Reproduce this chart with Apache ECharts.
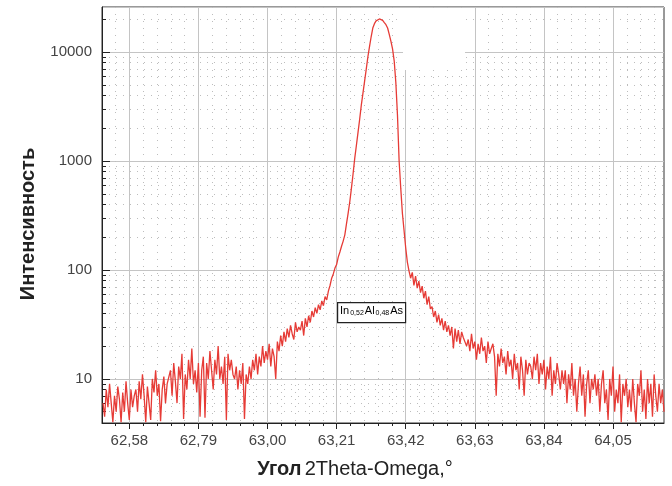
<!DOCTYPE html>
<html><head><meta charset="utf-8">
<script src="https://cdn.jsdelivr.net/npm/echarts@6/dist/echarts.min.js"></script>
<style>html,body{margin:0;padding:0;background:#fff}#c{width:672px;height:486px}</style>
</head><body><div id="c"></div>
<script>
// Scan sampling (2Theta-Omega, degrees)
const scanStart = 62.500;
const scanStep = 0.005;

// Intensity, left tail 62.500 .. 63.195
const tailLeft = [
  6,4.5,8,5.5,9,6,4,7,5,8.5,6.5,4,7.5,5,9.5,6,4.2,8,5.5,7,
  8,5,9.5,6.5,11,7,4,8.5,6,4.2,10,7.5,12,7,9,4.1,8,10.5,6,9,
  9,12,7,14,9.5,6,13,10,17,4.3,11,8,15,10,19,9,12,7.5,14,4.5,
  12,16,4.4,14,10,18,12,8,15,11,20,10,13,9,16,4.2,17,12,15,11,
  10,13,8,12,9,14,4.3,11,9,13,10,15,12,17,11,16,13,20,14,18,
  15,21,13,19,16,10,22,18,25,20,27,22,29,24,31,26,23,33,27,30,
  28,34,25,36,30,38,33,42,37,45,40,48,43,52,47,57,53,64,72,84
];
// Peak 63.200 .. 63.430
const peak = [
  92,104,112,131,146,165,184,210,265,330,420,560,760,1050,1380,1820,2400,3240,4170,5370,
  6920,9000,11200,13800,16600,18200,19300,19900,20100,20000,19500,18600,17800,16600,14500,12600,
  10700,8300,5250,2630,1000,560,330,230,160,118,98
];
// Right tail 63.435 .. 64.205
const tailRight = [
  84,95,72,88,68,79,62,71,55,64,48,57,44,
  46,37,42,33,39,31,36,28,34,27,31,25,30,19,29,22,28,21,27,24,
  25,20,23,18,26,19,22,15,21,17,24,18,20,14,22,17,19,21,16,7,
  17,13,19,14,16,11,18,13,15,10,17,12,14,8,16,12,7,15,11,14,
  13,10,16,12,17,9,14,11,15,8,13,10,16,7,12,9,14,11,8,12,
  9,12,6,11,8,14,7,10,5,9,13,7,11,4.5,9,12,6,10,8,11,
  7,10,5,9,12,6,8,4.2,10,7,13,5,8,6,11,4,9,7,10,5.5,
  8,5,10,6,4,9,7,12,5,8,4.3,10,6,9,4.5,11,7,5,9,6,8,5
];
const intensity = tailLeft.concat(peak, tailRight);

const xMajorTicks = [62.58, 62.79, 63.00, 63.21, 63.42, 63.63, 63.84, 64.05];
const xMinorTicks = [62.538, 62.622, 62.664, 62.706, 62.748, 62.832, 62.874, 62.916, 62.958,
  63.042, 63.084, 63.126, 63.168, 63.252, 63.294, 63.336, 63.378, 63.462, 63.504, 63.546, 63.588,
  63.672, 63.714, 63.756, 63.798, 63.882, 63.924, 63.966, 64.008, 64.092, 64.134, 64.176];
const yMajorTicks = [10, 100, 1000, 10000];
const yMinorTicks = [5, 6, 7, 8, 9, 20, 30, 40, 50, 60, 70, 80, 90, 200, 300, 400, 500, 600, 700, 800, 900,
  2000, 3000, 4000, 5000, 6000, 7000, 8000, 9000, 20000];

const X_MIN = 62.497, X_MAX = 64.205, Y_MIN = 3.94, Y_MAX = 25880;
const font = "'Liberation Sans', Arial, sans-serif";

const data = intensity.map((v, i) => [+(scanStart + i * scanStep).toFixed(3), v]);

const chart = echarts.init(document.getElementById('c'), null, {renderer: 'canvas'});
chart.setOption({
  animation: false,
  backgroundColor: '#fff',
  grid: {left: 102, right: 8, top: 7, bottom: 63, show: true, borderColor: '#333', borderWidth: 1, backgroundColor: 'transparent'},
  xAxis: [{
    type: 'value', min: X_MIN, max: X_MAX,
    name: '{b|Угол} {r|2Theta-Omega,°}', nameLocation: 'middle', nameGap: 36,
    nameTextStyle: {padding: [0, 56, 0, 0], rich: {
      b: {fontFamily: font, fontSize: 20, fontWeight: 'bold', color: '#222'},
      r: {fontFamily: font, fontSize: 20, color: '#222'}
    }},
    axisLine: {show: true, lineStyle: {color: '#222', width: 1}},
    axisTick: {show: true, length: 6, customValues: xMajorTicks, lineStyle: {color: '#222'}},
    axisLabel: {customValues: xMajorTicks, margin: 10, fontFamily: font, fontSize: 15, color: '#444',
      formatter: v => v.toFixed(2).replace('.', ',')},
    splitLine: {show: true, lineStyle: {color: '#c4c4c4', width: 1}}
  }, {
    type: 'value', min: X_MIN, max: X_MAX, position: 'bottom', gridIndex: 0,
    axisLine: {show: false},
    axisTick: {show: true, length: 3, customValues: xMinorTicks, lineStyle: {color: '#222'}},
    axisLabel: {show: false, customValues: xMinorTicks},
    splitLine: {show: true, lineStyle: {color: '#bdbdbd', width: 1, type: [1, 6]}}
  }],
  yAxis: [{
    type: 'log', logBase: 10, min: Y_MIN, max: Y_MAX,
    name: 'Интенсивность', nameLocation: 'middle', nameGap: 64,
    nameTextStyle: {fontFamily: font, fontSize: 20, fontWeight: 'bold', color: '#222', padding: [0, 18, 0, 0]},
    axisLine: {show: true, lineStyle: {color: '#222', width: 1}},
    axisTick: {show: true, inside: true, length: 8, lineStyle: {color: '#222'}},
    axisLabel: {margin: 10, fontFamily: font, fontSize: 15, color: '#444', showMinLabel: false, showMaxLabel: false,
      formatter: v => String(Math.round(v))},
    splitLine: {show: true, lineStyle: {color: '#c4c4c4', width: 1}}
  }, {
    type: 'log', logBase: 10, min: Y_MIN, max: Y_MAX, position: 'left', gridIndex: 0,
    axisLine: {show: false},
    axisTick: {show: true, inside: true, length: 4, customValues: yMinorTicks, lineStyle: {color: '#222'}},
    axisLabel: {show: false, customValues: yMinorTicks},
    splitLine: {show: true, lineStyle: {color: '#bdbdbd', width: 1, type: [1, 6]}}
  }],
  graphic: [
    {type: 'rect', left: 403, top: 8, z: 1, shape: {width: 62, height: 62}, style: {fill: '#fff'}},
    {type: 'rect', left: 337, top: 302, z: 10, shape: {width: 68, height: 20}, style: {fill: '#fff', stroke: '#222', lineWidth: 1.2}},
    {type: 'text', left: 340, top: 304, z: 11, style: {
      text: '{n|In}{s|0,52}{n|Al}{s|0,48}{n|As}',
      rich: {
        n: {fontFamily: font, fontSize: 11, color: '#222', lineHeight: 16, verticalAlign: 'middle'},
        s: {fontFamily: font, fontSize: 7, color: '#222', lineHeight: 16, padding: [6, 1, 0, 1]}
      }
    }}
  ],
  series: [{
    type: 'line', xAxisIndex: 0, yAxisIndex: 0, data: data, showSymbol: false, symbol: 'none',
    sampling: null, z: 5,
    lineStyle: {color: '#e63b36', width: 1.3}
  }]
});
</script></body></html>
